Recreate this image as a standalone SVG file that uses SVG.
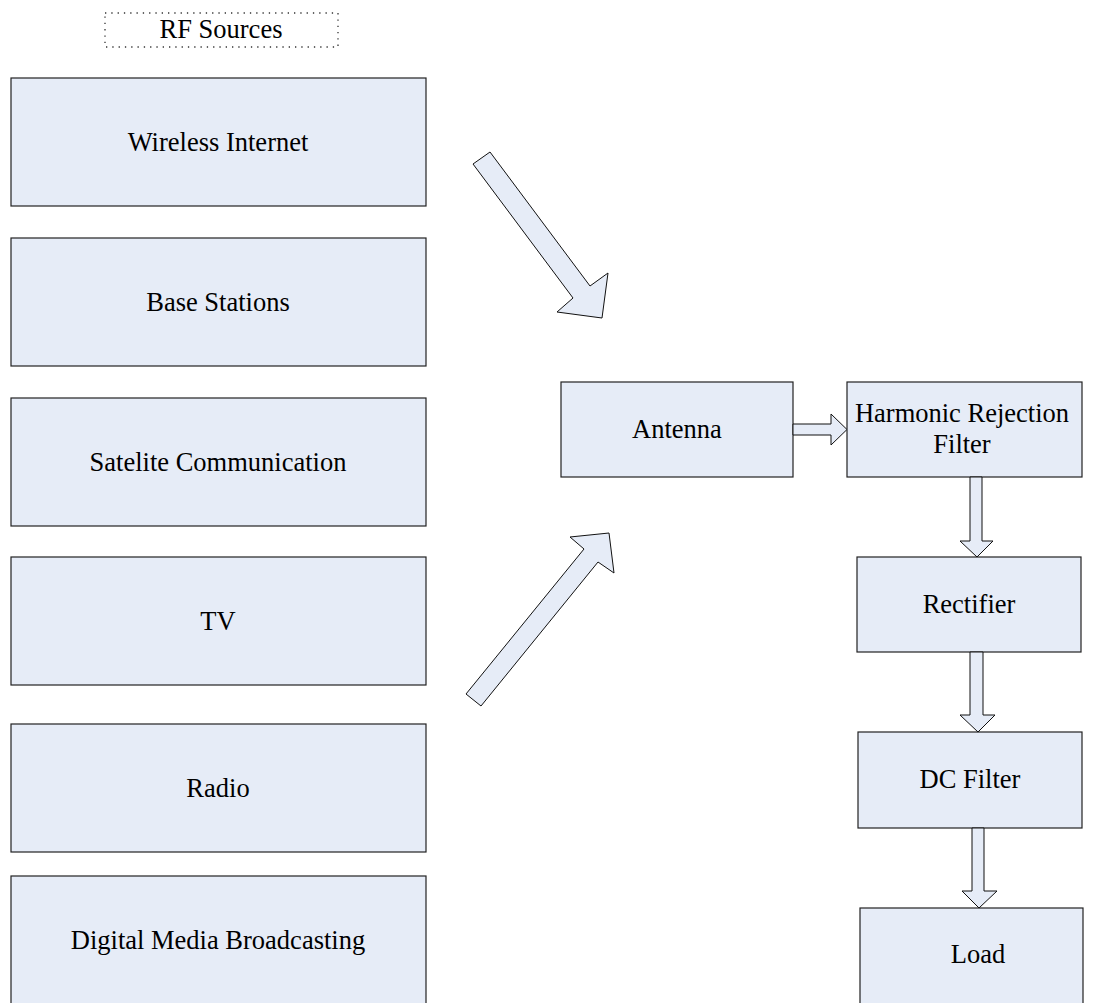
<svg xmlns="http://www.w3.org/2000/svg" width="1098" height="1003" viewBox="0 0 1098 1003">
<style>
  .box{fill:#E6ECF7;stroke:#222;stroke-width:1.2}
  .arr{fill:#E6ECF7;stroke:#111;stroke-width:1;stroke-linejoin:miter}
  .t{font-family:"Liberation Serif","Times New Roman",serif;font-size:26.5px;fill:#000;text-anchor:middle}
  .title{fill:none;stroke:#333;stroke-width:1.3;stroke-dasharray:1.3 5}
</style>
<rect width="1098" height="1003" fill="#fff"/>
<g id="rf-sources">
  <rect class="title" x="105" y="13" width="233" height="34"/>
  <text class="t" x="221" y="38">RF Sources</text>
</g>
<g id="wireless-internet">
  <rect class="box" x="11" y="78" width="415" height="128"/>
  <text class="t" x="218" y="151">Wireless Internet</text>
</g>
<g id="base-stations">
  <rect class="box" x="11" y="238" width="415" height="128"/>
  <text class="t" x="218" y="311">Base Stations</text>
</g>
<g id="satelite">
  <rect class="box" x="11" y="398" width="415" height="128"/>
  <text class="t" x="218" y="471">Satelite Communication</text>
</g>
<g id="tv">
  <rect class="box" x="11" y="557" width="415" height="128"/>
  <text class="t" x="218" y="630">TV</text>
</g>
<g id="radio">
  <rect class="box" x="11" y="724" width="415" height="128"/>
  <text class="t" x="218" y="797">Radio</text>
</g>
<g id="dmb">
  <rect class="box" x="11" y="876" width="415" height="140"/>
  <text class="t" x="218" y="949">Digital Media Broadcasting</text>
</g>
<g id="antenna">
  <rect class="box" x="561" y="382" width="232" height="95"/>
  <text class="t" x="677" y="438">Antenna</text>
</g>
<g id="hrf">
  <rect class="box" x="847" y="382" width="235" height="95"/>
  <text class="t" x="962" y="422">Harmonic Rejection</text>
  <text class="t" x="962" y="453">Filter</text>
</g>
<g id="rectifier">
  <rect class="box" x="857" y="557" width="224" height="95"/>
  <text class="t" x="969" y="613">Rectifier</text>
</g>
<g id="dc-filter">
  <rect class="box" x="858" y="732" width="224" height="96"/>
  <text class="t" x="970" y="788">DC Filter</text>
</g>
<g id="load">
  <rect class="box" x="860" y="908" width="223" height="110"/>
  <text class="t" x="978" y="963">Load</text>
</g>
<g id="connectors">
  <polygon class="arr" points="473,164 490,152 590,286 608,273 602,318 557,312 573,298"/>
  <polygon class="arr" points="481,706 598,562 614,573 609,533 570,537 584,549 466,694"/>
  <polygon class="arr" points="793,424 831,424 831,414 847,429.5 831,445 831,435 793,435"/>
  <polygon class="arr" points="970,477 982,477 982,541 993,541 977,557 960,541 970,541"/>
  <polygon class="arr" points="970,652 983,652 983,715 995,715 978,732 960,715 970,715"/>
  <polygon class="arr" points="972,828 984,828 984,891 997,891 979,908 962,891 972,891"/>
</g>
</svg>
